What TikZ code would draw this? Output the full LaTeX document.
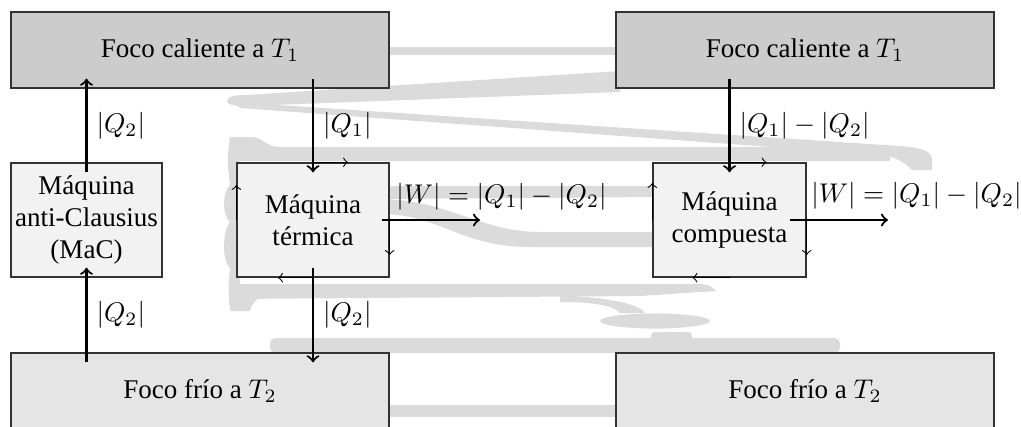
\documentclass[tikz,border=0pt]{standalone}
\usepackage[no-math]{fontspec}
\setmainfont{Liberation Serif}
\begin{document}
\begin{tikzpicture}[x=0.37pt,y=-0.37pt,
  wm/.style={fill=black!14},
  box/.style={draw=black!80, line width=0.5pt, inner sep=0pt, align=center},
  hot/.style={box, fill=black!20, minimum width=139.9pt, minimum height=28.1pt},
  cold/.style={box, fill=black!10, minimum width=139.9pt, minimum height=28.1pt},
  eng/.style={box, fill=black!5, minimum height=42.2pt},
  qarrow/.style={->, thick, shorten <=-3.7pt, shorten >=-3.7pt},
  warrow/.style={->, thick},
  cyc/.style={->, line width=0.4pt},
]
\clip (0,0) rectangle (1021,426);
% watermark
\fill[wm] (380,47) rectangle (630,55);
\fill[wm] (227,101) .. controls (227,96) and (236,95) .. (246,95) -- (620,71) -- (620,92) -- (246,106) .. controls (236,106) and (227,105) .. (227,101) -- cycle;
\fill[wm] (232,102) -- (900,146) .. controls (925,148) and (932,152) .. (932,160) -- (932,170) -- (912,170) .. controls (902,160) and (890,155) .. (880,155) -- (240,108) -- cycle;
\fill[wm] (238,137) -- (252,137) .. controls (262,137) and (266,147) .. (280,147) -- (890,147) -- (890,161) -- (238,161) -- cycle;
\fill[wm] (240,137) -- (230,137) .. controls (227,160) .. (230,185) .. controls (222,192) and (222,215) .. (230,222) .. controls (222,232) and (222,262) .. (230,268) .. controls (228,290) .. (230,310) -- (240,310) -- cycle;
\fill[wm] (380,186) -- (660,186) -- (660,197) -- (380,199) -- cycle;
\fill[wm] (380,199) .. controls (450,200) and (480,232) .. (540,232) -- (660,232) -- (660,247) -- (530,247) .. controls (460,247) and (440,214) .. (380,214) -- cycle;
\fill[wm] (230,284) -- (700,284) .. controls (710,285) .. (716,291) -- (640,296) -- (230,299) -- cycle;
\fill[wm] (230,284) -- (285,284) .. controls (265,292) and (252,300) .. (250,311) -- (230,311) -- cycle;
\fill[wm] (560,295) .. controls (610,298) and (640,304) .. (645,313) -- (620,313) .. controls (615,307) and (600,302) .. (560,302) -- cycle;
\fill[wm] (655,321) ellipse [x radius=20.3pt, y radius=2.8pt];
\fill[wm, rounded corners=2pt] (270,338) rectangle (840,353);
\fill[wm, rounded corners=1.5pt] (651,332) rectangle (692,341);
\fill[wm] (380,405) rectangle (625,417);
% boxes
\node[hot] (hotL) at (200,50) {Foco caliente a $T_1$};
\node[hot] (hotR) at (805,50) {Foco caliente a $T_1$};
\node[eng, minimum width=55.9pt] (mac) at (86.5,220) {Máquina\\anti-Clausius\\(MaC)};
\node[eng, minimum width=56.2pt] (term) at (313,220) {Máquina\\térmica};
\node[eng, minimum width=56.6pt] (comp) at (729.5,220) {Máquina\\compuesta};
\node[cold] (coldL) at (200,391) {Foco frío a $T_2$};
\node[cold] (coldR) at (805,391) {Foco frío a $T_2$};
% heat flows
\draw[qarrow] (mac |- coldL.north) -- (mac.south) node[midway,right] {$|Q_2|$};
\draw[qarrow] (mac.north) -- (mac |- hotL.south) node[midway,right] {$|Q_2|$};
\draw[qarrow] (term |- hotL.south) -- (term.north) node[midway,right] {$|Q_1|$};
\draw[qarrow] (term.south) -- (term |- coldL.north) node[midway,right] {$|Q_2|$};
\draw[qarrow] (comp |- hotR.south) -- (comp.north) node[midway,right] {$|Q_1|-|Q_2|$};
% work
\coordinate (wTs) at (382,220);
\coordinate (wTe) at (480,220);
\coordinate (wCs) at (790,220);
\coordinate (wCe) at (888,220);
\draw[warrow] (wTs) -- (wTe);
\draw[warrow] (wCs) -- (wCe);
\node (wlT) at (501.5,197) {$|W|=|Q_1|-|Q_2|$};
\node (wlC) at (916.5,196) {$|W|=|Q_1|-|Q_2|$};
% cycle arrows
\draw[cyc] (term.north) -- ++(35,0);
\draw[cyc] (term.east) -- ++(0,35);
\draw[cyc] (term.south) -- ++(-35,0);
\draw[cyc] (term.west) -- ++(0,-35);
\draw[cyc] (comp.north) -- ++(37,0);
\draw[cyc] (comp.east) -- ++(0,35);
\draw[cyc] (comp.south) -- ++(-37,0);
\draw[cyc] (comp.west) -- ++(0,-37);
\end{tikzpicture}
\end{document}
